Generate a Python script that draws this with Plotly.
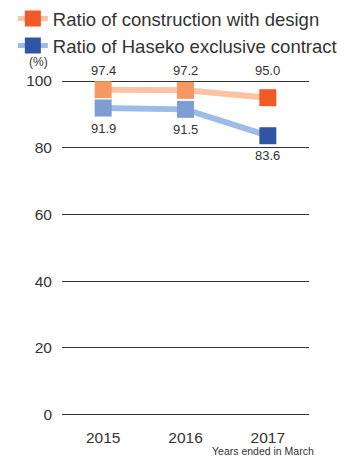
import plotly.graph_objects as go

years = ["2015", "2016", "2017"]
design = [97.4, 97.2, 95.0]
exclusive = [91.9, 91.5, 83.6]
names = ["Ratio of construction with design", "Ratio of Haseko exclusive contract"]
y_ticks = [0, 20, 40, 60, 80, 100]

o_line, o_light, o_dark = "#FBC2A3", "#F79862", "#F15A24"
b_line, b_light, b_dark = "#9CBCE5", "#7E9ED3", "#2F55A4"

font = "Liberation Sans, Arial, Helvetica, sans-serif"
fig = go.Figure()

for vals, lc, light, dark, nm in [
    (design, o_line, o_light, o_dark, names[0]),
    (exclusive, b_line, b_light, b_dark, names[1]),
]:
    cols = [light] * (len(vals) - 1) + [dark]
    fig.add_trace(go.Scatter(
        x=years, y=vals, mode="lines+markers", showlegend=False,
        line=dict(color=lc, width=6),
        marker=dict(symbol="square", size=17, color=cols, line=dict(width=0)),
        cliponaxis=False,
    ))
    fig.add_trace(go.Scatter(
        x=[years[0]], y=[None], mode="lines+markers", name=nm,
        line=dict(color=lc, width=5),
        marker=dict(symbol="square", size=16, color=dark, line=dict(width=0)),
    ))

annotations = []
for i, v in enumerate(design):
    annotations.append(dict(x=i, y=100, xref="x", yref="y", text=f"{v:.1f}",
                            showarrow=False, yanchor="bottom", yshift=1,
                            font=dict(size=13, color="#333333", family=font)))
for i, v in enumerate(exclusive):
    annotations.append(dict(x=i, y=v, xref="x", yref="y", text=f"{v:.1f}",
                            showarrow=False, yshift=-20,
                            font=dict(size=13, color="#333333", family=font)))
annotations.append(dict(xref="x", yref="y", x=-0.5, y=y_ticks[-1], xanchor="right",
                        yanchor="bottom", text="(%)", showarrow=False, xshift=-12, yshift=10,
                        font=dict(size=12, color="#333333", family=font)))
annotations.append(dict(xref="x", yref="y", x=2.5, y=y_ticks[0], xanchor="right",
                        yanchor="top", text="Years ended in March", showarrow=False,
                        xshift=7, yshift=-28,
                        font=dict(size=10.5, color="#333333", family=font)))

fig.update_layout(
    width=357, height=457,
    margin=dict(l=62, r=48, t=76, b=39, autoexpand=False),
    paper_bgcolor="white", plot_bgcolor="white",
    font=dict(family=font, color="#333333"),
    annotations=annotations,
    legend=dict(xref="container", yref="container", x=0.036, y=1.0,
                xanchor="left", yanchor="top",
                font=dict(size=18.5, color="#333333", family=font),
                tracegroupgap=0, itemsizing="trace",
                bgcolor="rgba(0,0,0,0)"),
    xaxis=dict(type="category", range=[-0.5, 2.5], showgrid=False, zeroline=False,
               showline=False, ticks="", ticklabelstandoff=8,
               tickfont=dict(size=15.5, color="#333333")),
    yaxis=dict(range=[-1, 101.5], tickvals=y_ticks, showgrid=True,
               gridcolor="#333333", gridwidth=1.2,
               zeroline=True, zerolinecolor="#333333", zerolinewidth=1.2,
               showline=False, ticks="", ticklabelstandoff=9,
               tickfont=dict(size=15.5, color="#333333")),
)

fig.write_html("out.html")
